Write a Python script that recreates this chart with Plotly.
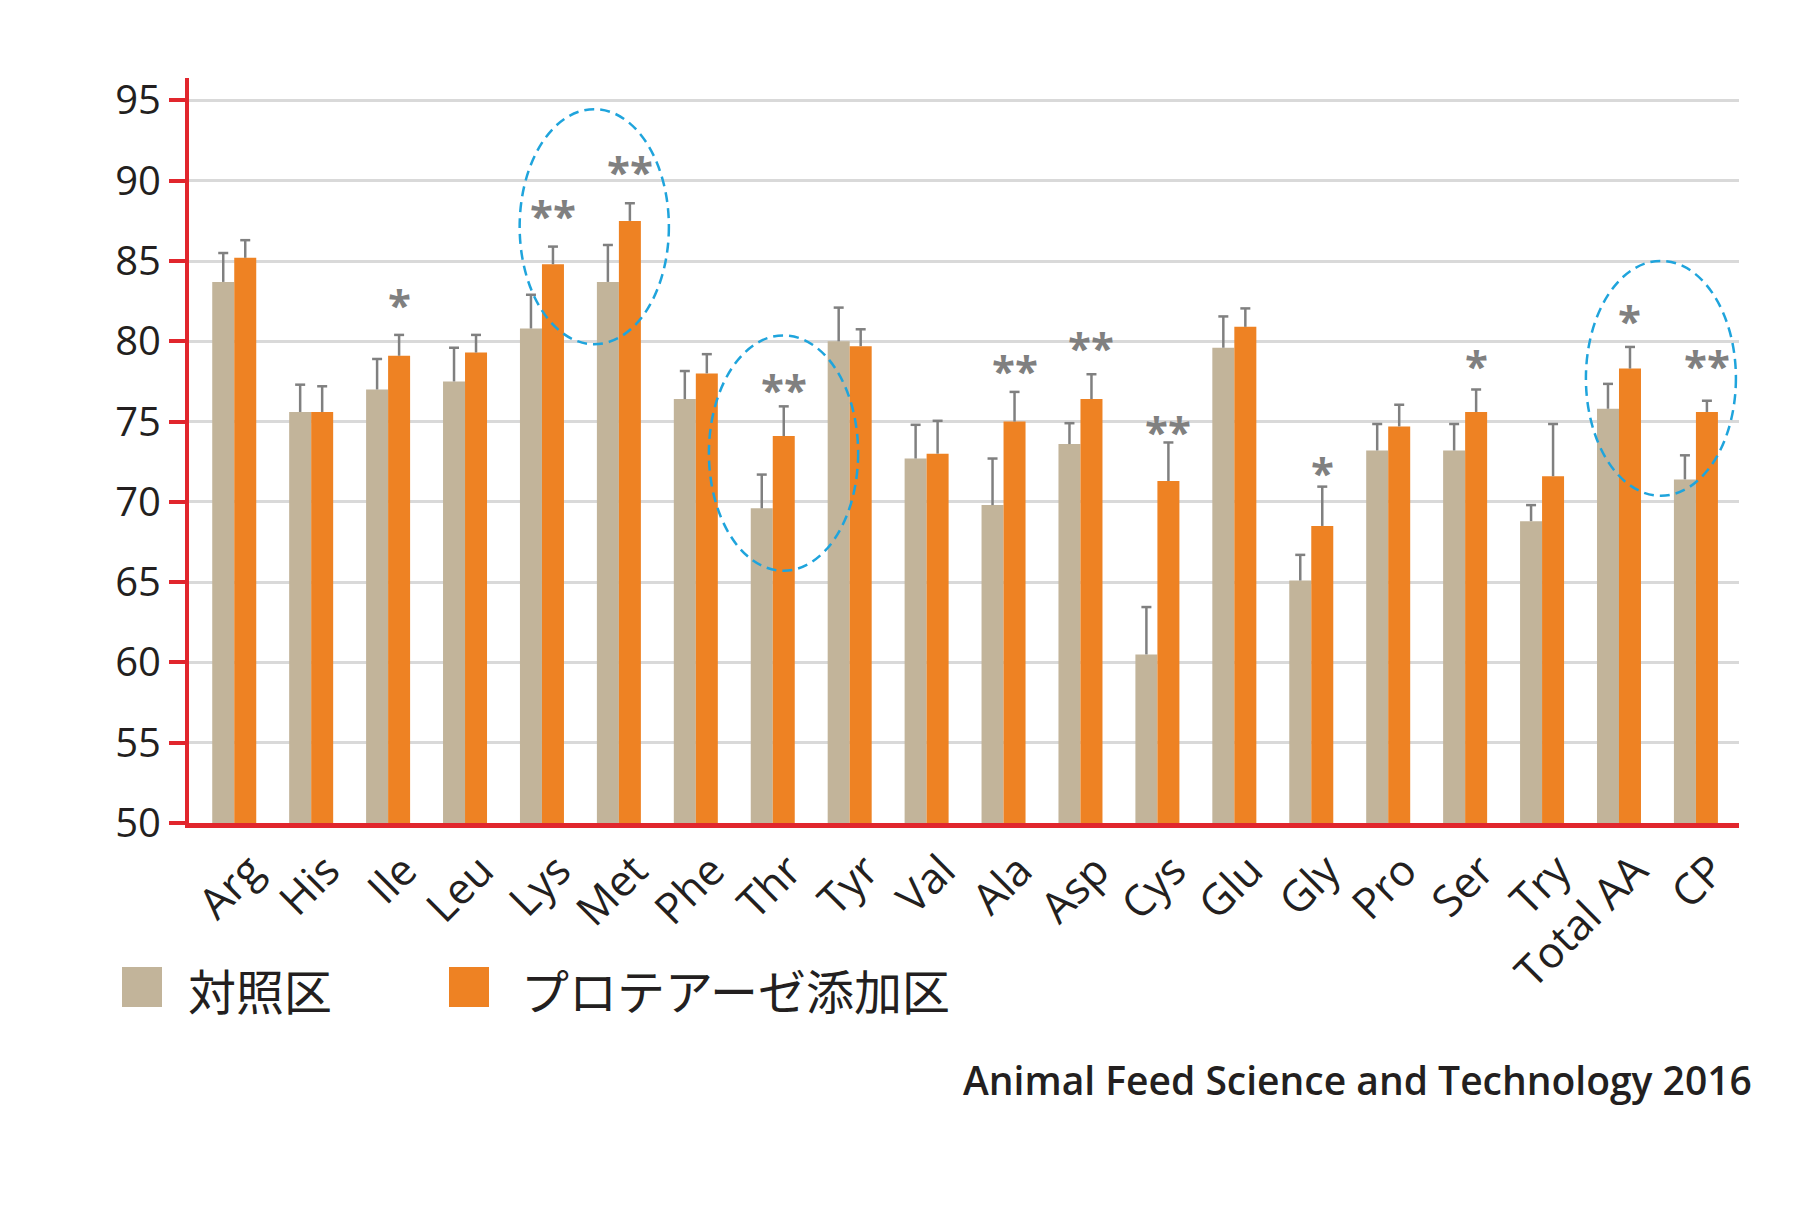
import plotly.graph_objects as go

# ---------------- data ----------------
categories = ["Arg", "His", "Ile", "Leu", "Lys", "Met", "Phe", "Thr", "Tyr", "Val",
              "Ala", "Asp", "Cys", "Glu", "Gly", "Pro", "Ser", "Try", "Total AA", "CP"]
control = [83.7, 75.6, 77.0, 77.5, 80.8, 83.7, 76.4, 69.6, 80.0, 72.7,
           69.8, 73.6, 60.5, 79.6, 65.1, 73.2, 73.2, 68.8, 75.8, 71.4]
control_err = [1.8, 1.7, 1.9, 2.1, 2.1, 2.3, 1.75, 2.1, 2.1, 2.1,
               2.9, 1.3, 2.95, 1.95, 1.6, 1.65, 1.65, 1.0, 1.55, 1.5]
protease = [85.2, 75.6, 79.1, 79.3, 84.8, 87.5, 78.0, 74.1, 79.7, 73.0,
            75.0, 76.4, 71.3, 80.9, 68.5, 74.7, 75.6, 71.6, 78.3, 75.6]
protease_err = [1.1, 1.6, 1.3, 1.1, 1.1, 1.1, 1.2, 1.85, 1.05, 2.05,
                1.85, 1.55, 2.4, 1.15, 2.45, 1.35, 1.4, 3.25, 1.35, 0.7]
signif = ["", "", "*", "", "**", "**", "", "**", "", "",
          "**", "**", "**", "", "*", "", "*", "", "*", "**"]
signif_level = [None, None, 82.57, None, 88.1, 90.8, None, 77.27, None, None,
                78.41, 79.89, 74.63, None, 72.1, None, 78.72, None, 81.53, 78.72]
series_names = ["対照区", "プロテアーゼ添加区"]
y_ticks = [50, 55, 60, 65, 70, 75, 80, 85, 90, 95]
source_text = "Animal Feed Science and Technology 2016"
# highlighted groups (category index span, value span)
highlights = [((3.71, 5.65), (79.82, 94.46)),
              ((6.17, 8.11), (65.71, 80.37)),
              ((17.57, 19.52), (70.38, 85.01))]

# ---------------- style ----------------
C_BEIGE = "#c2b49a"
C_ORANGE = "#ee8223"
C_RED = "#e1262d"
C_GRID = "#d9d9d9"
C_ERR = "#808080"
C_TEXT = "#231f20"
C_BLUE = "#1fa4dc"
FONT = "Open Sans"
CJK = "Noto Sans CJK JP"

BARGAP = 0.428
bar_w = (1 - BARGAP) / 2
cap = 0.065

x_idx = list(range(len(categories)))

fig = go.Figure()
fig.add_trace(go.Bar(x=x_idx, y=control, name=series_names[0], marker_color=C_BEIGE,
                     marker_line_width=0, showlegend=False, hoverinfo="skip"))
fig.add_trace(go.Bar(x=x_idx, y=protease, name=series_names[1], marker_color=C_ORANGE,
                     marker_line_width=0, showlegend=False, hoverinfo="skip"))


def err_trace(vals, errs, shift):
    xs, ys = [], []
    for i, (v, e) in enumerate(zip(vals, errs)):
        xc = i + shift
        top = v + e
        xs += [xc, xc, None, xc - cap, xc + cap, None]
        ys += [v, top, None, top, top, None]
    return go.Scatter(x=xs, y=ys, mode="lines", line=dict(color=C_ERR, width=2.5),
                      showlegend=False, hoverinfo="skip", cliponaxis=False)


fig.add_trace(err_trace(control, control_err, -bar_w / 2))
fig.add_trace(err_trace(protease, protease_err, bar_w / 2))

annotations = []
for i, (s, lv) in enumerate(zip(signif, signif_level)):
    if s:
        annotations.append(dict(x=i + bar_w / 2, y=lv, xref="x", yref="y", text=s,
                                showarrow=False, yanchor="middle", xanchor="center",
                                yshift=-3,
                                font=dict(family=FONT, size=42, color=C_ERR, weight="bold")))

shapes = []
for (x0, x1), (y0, y1) in highlights:
    shapes.append(dict(type="circle", xref="x", yref="y", x0=x0, x1=x1, y0=y0, y1=y1,
                       line=dict(color=C_BLUE, width=2.5, dash="10px,6px"), layer="above"))

# manual legend
L, R, T, B = 189, 61, 78, 399
PW = 1800 - L - R
PH = 1222 - T - B


def px2paper_x(px):
    return (px - L) / PW


def px2paper_y(py):
    return (1222 - B - py) / PH


leg = [(series_names[0], C_BEIGE, 122, 186), (series_names[1], C_ORANGE, 449, 519)]
for name, col, sx, tx in leg:
    shapes.append(dict(type="rect", xref="paper", yref="paper",
                       x0=px2paper_x(sx), x1=px2paper_x(sx + 40),
                       y0=px2paper_y(1007), y1=px2paper_y(967),
                       fillcolor=col, line=dict(width=0)))
    annotations.append(dict(x=px2paper_x(tx), y=px2paper_y(989), xref="paper", yref="paper",
                            text=name, showarrow=False, xanchor="left", yanchor="middle",
                            font=dict(family=CJK, size=48, color=C_TEXT)))

annotations.append(dict(x=px2paper_x(1754), y=px2paper_y(1079), xref="paper", yref="paper",
                        text=source_text, showarrow=False, xanchor="right", yanchor="middle",
                        font=dict(family=FONT, size=39, color=C_TEXT, weight=600)))

fig.update_layout(
    width=1800, height=1222,
    margin=dict(l=L, r=R, t=T, b=B, pad=0),
    paper_bgcolor="white", plot_bgcolor="white",
    barmode="group", bargap=BARGAP, bargroupgap=0,
    shapes=shapes, annotations=annotations,
    showlegend=False,
)
fig.update_xaxes(
    range=[-0.588, 19.56], tickmode="array", tickvals=x_idx, ticktext=categories,
    tickangle=-45, ticks="", showgrid=False, zeroline=False,
    showline=True, linecolor=C_RED, linewidth=5, ticklabelshift=16,
    tickfont=dict(family=FONT, size=43, color=C_TEXT),
)
fig.update_yaxes(
    range=[50, 96.4], tickmode="array", tickvals=y_ticks,
    ticks="outside", ticklen=16, tickwidth=4, tickcolor=C_RED,
    showgrid=True, gridcolor=C_GRID, gridwidth=3, zeroline=False,
    showline=True, linecolor=C_RED, linewidth=4,
    tickfont=dict(family=FONT, size=40, color=C_TEXT),
)

fig.write_html("out.html")
